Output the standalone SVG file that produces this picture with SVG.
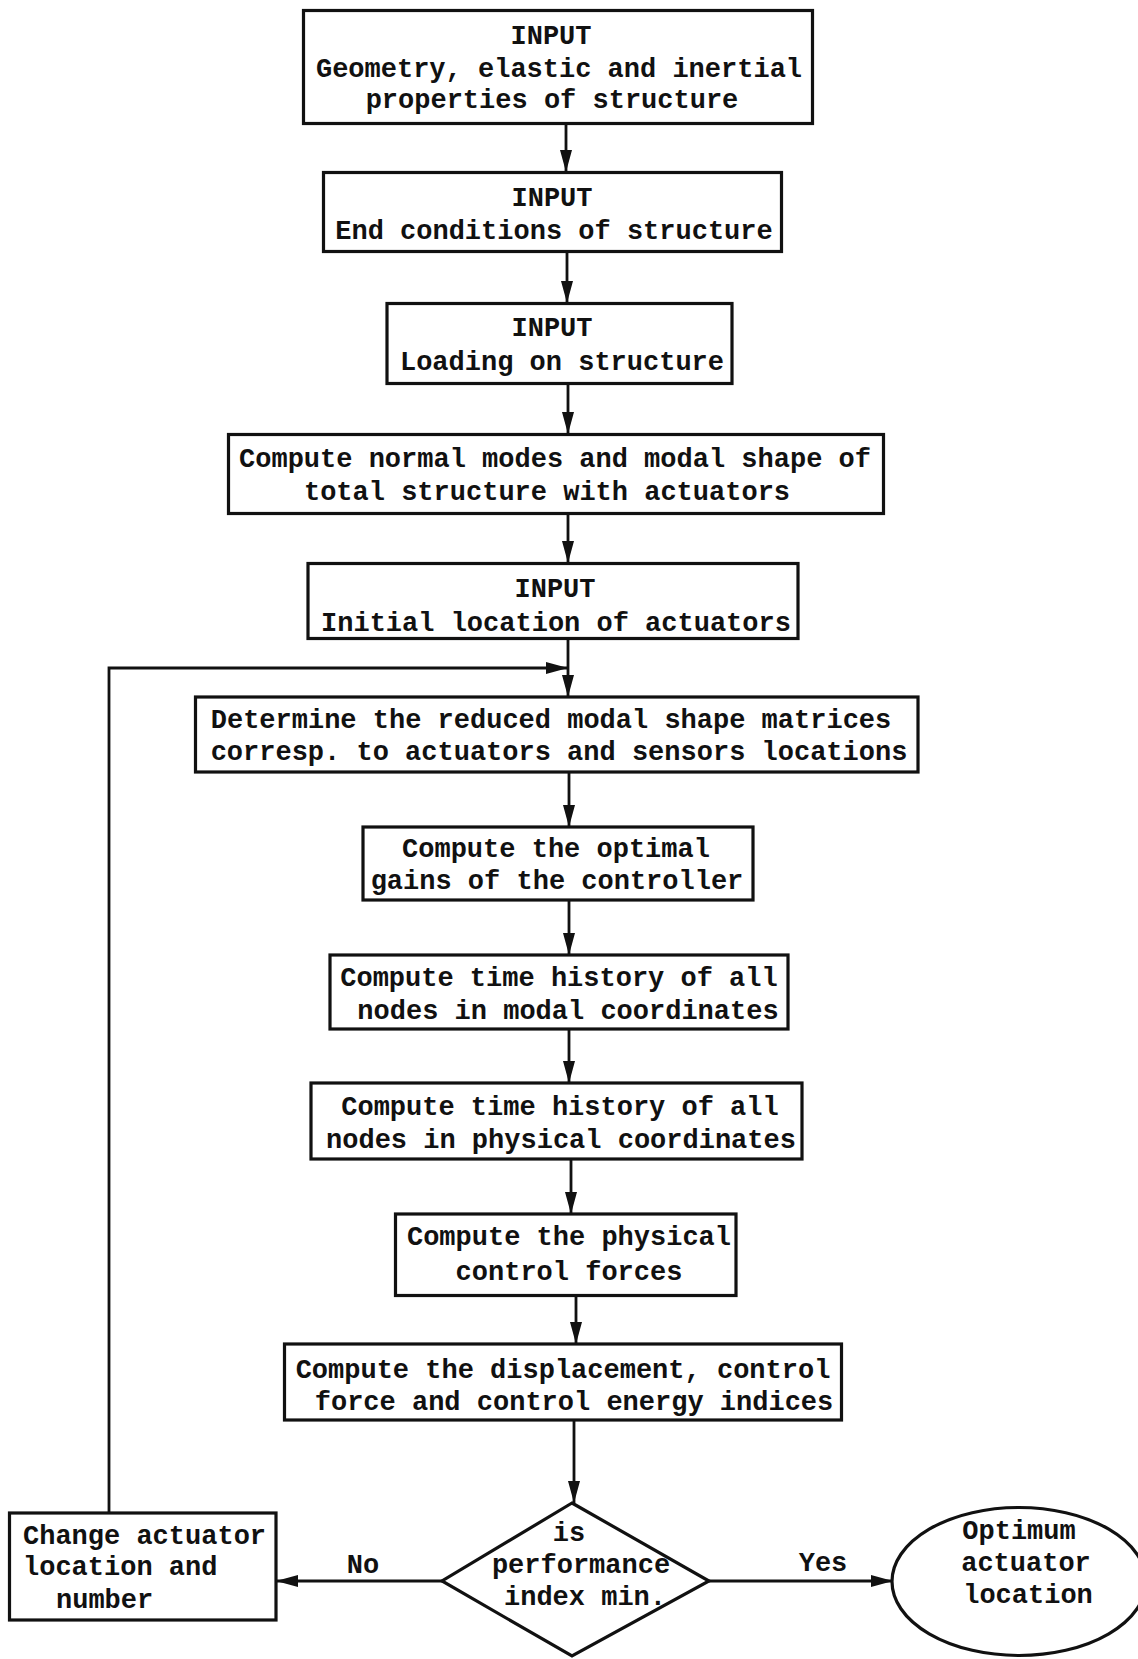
<svg xmlns="http://www.w3.org/2000/svg" width="1138" height="1659" viewBox="0 0 1138 1659">
<style>
.box{fill:#fff;stroke:#111;stroke-width:3.2}
.ln{fill:none;stroke:#111;stroke-width:2.8}
text{font-family:"Liberation Mono","DejaVu Sans Mono",monospace;font-weight:bold;font-size:27px;fill:#111}
.c{text-anchor:middle}
</style>
<defs>
<marker id="ah" markerUnits="userSpaceOnUse" markerWidth="24" markerHeight="12" refX="22" refY="6" orient="auto">
<path d="M0,0 L22,6 L0,12 Z" fill="#111"/>
</marker>
</defs>
<rect width="1138" height="1659" fill="#fff"/>
<g id="connectors">
<line class="ln" x1="566" y1="124" x2="566" y2="172" marker-end="url(#ah)"/>
<line class="ln" x1="567" y1="252" x2="567" y2="303" marker-end="url(#ah)"/>
<line class="ln" x1="568" y1="384" x2="568" y2="434" marker-end="url(#ah)"/>
<line class="ln" x1="568" y1="514" x2="568" y2="563" marker-end="url(#ah)"/>
<line class="ln" x1="568" y1="639" x2="568" y2="697" marker-end="url(#ah)"/>
<polyline class="ln" points="109,1513 109,668 568,668" marker-end="url(#ah)"/>
<line class="ln" x1="569" y1="772" x2="569" y2="827" marker-end="url(#ah)"/>
<line class="ln" x1="569" y1="900" x2="569" y2="955" marker-end="url(#ah)"/>
<line class="ln" x1="569" y1="1029" x2="569" y2="1083" marker-end="url(#ah)"/>
<line class="ln" x1="571" y1="1159" x2="571" y2="1214" marker-end="url(#ah)"/>
<line class="ln" x1="576" y1="1296" x2="576" y2="1344" marker-end="url(#ah)"/>
<line class="ln" x1="574" y1="1420" x2="574" y2="1503" marker-end="url(#ah)"/>
<line class="ln" x1="442" y1="1581" x2="276" y2="1581" marker-end="url(#ah)"/>
<line class="ln" x1="709" y1="1581" x2="893" y2="1581" marker-end="url(#ah)"/>
<text class="c" x="363" y="1573">No</text>
<text class="c" x="823" y="1571">Yes</text>
</g>
<g id="n1">
<rect class="box" x="303.5" y="10.5" width="509" height="113"/>
<text class="c" x="551" y="44">INPUT</text>
<text class="c" x="559" y="77">Geometry, elastic and inertial</text>
<text class="c" x="552" y="108">properties of structure</text>
</g>
<g id="n2">
<rect class="box" x="323.5" y="172.5" width="458" height="79"/>
<text class="c" x="552" y="206">INPUT</text>
<text class="c" x="554" y="239">End conditions of structure</text>
</g>
<g id="n3">
<rect class="box" x="387" y="303.5" width="345" height="80"/>
<text class="c" x="552" y="336">INPUT</text>
<text class="c" x="562" y="370">Loading on structure</text>
</g>
<g id="n4">
<rect class="box" x="228.5" y="434.5" width="655" height="79"/>
<text class="c" x="555" y="467">Compute normal modes and modal shape of</text>
<text class="c" x="547" y="500">total structure with actuators</text>
</g>
<g id="n5">
<rect class="box" x="308" y="563.5" width="490" height="75"/>
<text class="c" x="555" y="597">INPUT</text>
<text class="c" x="556" y="631">Initial location of actuators</text>
</g>
<g id="n6">
<rect class="box" x="195.5" y="697" width="722.5" height="75"/>
<text class="c" x="551" y="728">Determine the reduced modal shape matrices</text>
<text class="c" x="559" y="760">corresp. to actuators and sensors locations</text>
</g>
<g id="n7">
<rect class="box" x="363" y="827" width="390" height="73"/>
<text class="c" x="556" y="857">Compute the optimal</text>
<text class="c" x="557" y="889">gains of the controller</text>
</g>
<g id="n8">
<rect class="box" x="330" y="955" width="458" height="74"/>
<text class="c" x="559" y="986">Compute time history of all</text>
<text class="c" x="568" y="1019">nodes in modal coordinates</text>
</g>
<g id="n9">
<rect class="box" x="311" y="1083" width="491" height="76"/>
<text class="c" x="560" y="1115">Compute time history of all</text>
<text class="c" x="561" y="1148">nodes in physical coordinates</text>
</g>
<g id="n10">
<rect class="box" x="395.5" y="1214" width="340.5" height="81.5"/>
<text class="c" x="569" y="1245">Compute the physical</text>
<text class="c" x="569" y="1280">control forces</text>
</g>
<g id="n11">
<rect class="box" x="284.5" y="1344" width="557" height="76"/>
<text class="c" x="563" y="1378">Compute the displacement, control</text>
<text class="c" x="574" y="1410">force and control energy indices</text>
</g>
<g id="n12">
<polygon class="box" points="572,1503 709,1581 572,1656 442,1581"/>
<text class="c" x="569" y="1541">is</text>
<text class="c" x="581" y="1573">performance</text>
<text class="c" x="585" y="1605">index min.</text>
</g>
<g id="n13">
<rect class="box" x="9.5" y="1513" width="266.5" height="107"/>
<text x="23" y="1544">Change actuator</text>
<text x="23" y="1575">location and</text>
<text x="56" y="1608">number</text>
</g>
<g id="n14">
<ellipse class="box" cx="1019" cy="1581.5" rx="127" ry="74"/>
<text class="c" x="1019" y="1539">Optimum</text>
<text class="c" x="1026" y="1571">actuator</text>
<text class="c" x="1028" y="1603">location</text>
</g>
</svg>
